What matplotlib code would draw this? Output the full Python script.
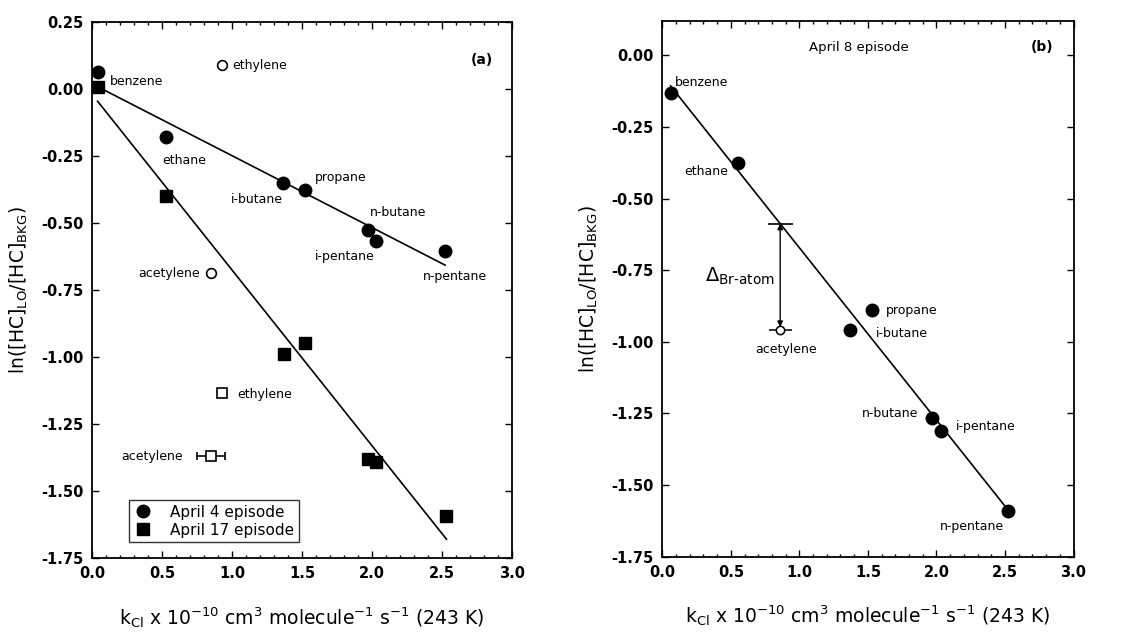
import numpy as np
import matplotlib
matplotlib.use("Agg")
import matplotlib.pyplot as plt
from matplotlib.ticker import MultipleLocator

# ---- data (k_Cl in 1e-10 cm3 molecule-1 s-1, ln ratio) ----
species = ["benzene", "ethane", "i-butane", "propane", "n-butane", "i-pentane", "n-pentane"]

k_apr4 = [0.04, 0.53, 1.36, 1.52, 1.97, 2.03, 2.52]
ln_apr4 = [0.065, -0.18, -0.35, -0.375, -0.525, -0.565, -0.605]

k_apr17 = [0.04, 0.53, 1.37, 1.52, 1.97, 2.03, 2.53]
ln_apr17 = [0.01, -0.40, -0.99, -0.947, -1.38, -1.39, -1.593]

# alkenes / alkynes (open symbols, not in the fit)
k_ethylene, k_acetylene = 0.93, 0.85
ln_ethylene_apr4, ln_acetylene_apr4 = 0.09, -0.687
ln_ethylene_apr17, ln_acetylene_apr17 = -1.134, -1.37
acetylene_xerr = 0.1

k_apr8 = [0.06, 0.55, 1.37, 1.53, 1.97, 2.03, 2.52]
ln_apr8 = [-0.13, -0.375, -0.96, -0.89, -1.267, -1.31, -1.59]
k_acet_apr8, ln_acet_apr8, xerr_acet_apr8 = 0.86, -0.958, 0.085

xlabel = r"k$_{\mathrm{Cl}}$ x 10$^{-10}$ cm$^{3}$ molecule$^{-1}$ s$^{-1}$ (243 K)"
ylabel = r"ln([HC]$_{\mathrm{LO}}$/[HC]$_{\mathrm{BKG}}$)"

TXT = 9


def fit_line(ax, x, y):
    p = np.polyfit(x, y, 1)
    xx = np.array([min(x), max(x)])
    ax.plot(xx, np.polyval(p, xx), color="black", lw=1.2, zorder=2)
    return p


def style_axes(ax, ylim, ymaj):
    ax.set_xlim(0, 3.0)
    ax.set_ylim(*ylim)
    ax.xaxis.set_major_locator(MultipleLocator(0.5))
    ax.xaxis.set_minor_locator(MultipleLocator(0.1))
    ax.yaxis.set_major_locator(MultipleLocator(ymaj))
    ax.tick_params(which="both", direction="in", top=True, right=True, width=1.0)
    ax.tick_params(which="major", length=5, labelsize=10.5, pad=6)
    ax.tick_params(which="minor", length=2.5)
    for lab in ax.get_xticklabels() + ax.get_yticklabels():
        lab.set_fontweight("bold")
    ax.xaxis.set_major_formatter(plt.FormatStrFormatter("%.1f"))
    ax.yaxis.set_major_formatter(plt.FormatStrFormatter("%.2f"))
    for s in ax.spines.values():
        s.set_linewidth(1.3)
    ax.set_xlabel(xlabel, fontsize=13.5, labelpad=17)
    ax.set_ylabel(ylabel, fontsize=13.5, labelpad=8)


fig = plt.figure(figsize=(11.36, 6.37), dpi=100)

# ---- panel (a) ----
ax = fig.add_axes([0.081, 0.124, 0.370, 0.841])
ax.plot(k_apr4, ln_apr4, "o", color="black", ms=9, label="April 4 episode", zorder=3)
ax.plot(k_apr17, ln_apr17, "s", color="black", ms=8, label="April 17 episode", zorder=3)
fit_line(ax, k_apr4, ln_apr4)
fit_line(ax, k_apr17, ln_apr17)

ax.plot(k_ethylene, ln_ethylene_apr4, "o", mfc="white", mec="black", ms=7, mew=1.2)
ax.plot(k_acetylene, ln_acetylene_apr4, "o", mfc="white", mec="black", ms=7, mew=1.2)
ax.plot(k_ethylene, ln_ethylene_apr17, "s", mfc="white", mec="black", ms=6.5, mew=1.2)
ax.errorbar(k_acetylene, ln_acetylene_apr17, xerr=acetylene_xerr, fmt="s", mfc="white",
            mec="black", ecolor="black", ms=6.5, mew=1.2, capsize=3, elinewidth=1.2)

ax.text(0.13, 0.03, "benzene", fontsize=TXT, va="center")
ax.text(0.66, -0.265, "ethane", fontsize=TXT, ha="center", va="center")
ax.text(1.18, -0.41, "i-butane", fontsize=TXT, ha="center", va="center")
ax.text(1.59, -0.33, "propane", fontsize=TXT, va="center")
ax.text(1.98, -0.46, "n-butane", fontsize=TXT, va="center")
ax.text(1.59, -0.625, "i-pentane", fontsize=TXT, va="center")
ax.text(2.36, -0.70, "n-pentane", fontsize=TXT, va="center")
ax.text(1.0, 0.09, "ethylene", fontsize=TXT, va="center")
ax.text(0.77, ln_acetylene_apr4, "acetylene", fontsize=TXT, ha="right", va="center")
ax.text(1.035, -1.14, "ethylene", fontsize=TXT, va="center")
ax.text(0.65, ln_acetylene_apr17, "acetylene", fontsize=TXT, ha="right", va="center")
ax.text(0.955, 0.93, "(a)", transform=ax.transAxes, fontsize=10, fontweight="bold",
        ha="right", va="center")

leg = ax.legend(loc="lower left", bbox_to_anchor=(0.07, 0.015), fontsize=11, frameon=True,
                fancybox=False, edgecolor="black", handlelength=1.2, handletextpad=1.2,
                borderpad=0.3, labelspacing=0.2)
leg.get_frame().set_linewidth(1.0)

style_axes(ax, (-1.75, 0.25), 0.25)

# ---- panel (b) ----
bx = fig.add_axes([0.583, 0.126, 0.362, 0.841])
bx.plot(k_apr8, ln_apr8, "o", color="black", ms=9, zorder=3)
p8 = fit_line(bx, k_apr8, ln_apr8)
bx.errorbar(k_acet_apr8, ln_acet_apr8, xerr=xerr_acet_apr8, fmt="o", mfc="white", mec="black",
            ecolor="black", ms=6, mew=1.1, capsize=0, elinewidth=1.1)

y_top = np.polyval(p8, k_acet_apr8)
bx.hlines(y_top, k_acet_apr8 - 0.09, k_acet_apr8 + 0.09, color="black", lw=1.2)
bx.annotate("", xy=(k_acet_apr8, ln_acet_apr8 + 0.01), xytext=(k_acet_apr8, y_top),
            arrowprops=dict(arrowstyle="<|-|>", color="black", lw=1.0,
                            mutation_scale=8, shrinkA=0, shrinkB=0))
bx.text(0.82, -0.77, r"$\Delta_{\mathrm{Br\text{-}atom}}$", fontsize=14, ha="right", va="center")

bx.text(0.09, -0.095, "benzene", fontsize=TXT, va="center")
bx.text(0.48, -0.405, "ethane", fontsize=TXT, ha="right", va="center")
bx.text(1.63, -0.89, "propane", fontsize=TXT, va="center")
bx.text(1.56, -0.97, "i-butane", fontsize=TXT, va="center")
bx.text(0.9, -1.025, "acetylene", fontsize=TXT, ha="center", va="center")
bx.text(1.87, -1.25, "n-butane", fontsize=TXT, ha="right", va="center")
bx.text(2.14, -1.296, "i-pentane", fontsize=TXT, va="center")
bx.text(2.49, -1.646, "n-pentane", fontsize=TXT, ha="right", va="center")
bx.text(0.477, 0.951, "April 8 episode", transform=bx.transAxes, fontsize=TXT + 0.5,
        ha="center", va="center")
bx.text(0.95, 0.951, "(b)", transform=bx.transAxes, fontsize=10, fontweight="bold",
        ha="right", va="center")

style_axes(bx, (-1.75, 0.12), 0.25)

fig.savefig("out.png", dpi=100)
